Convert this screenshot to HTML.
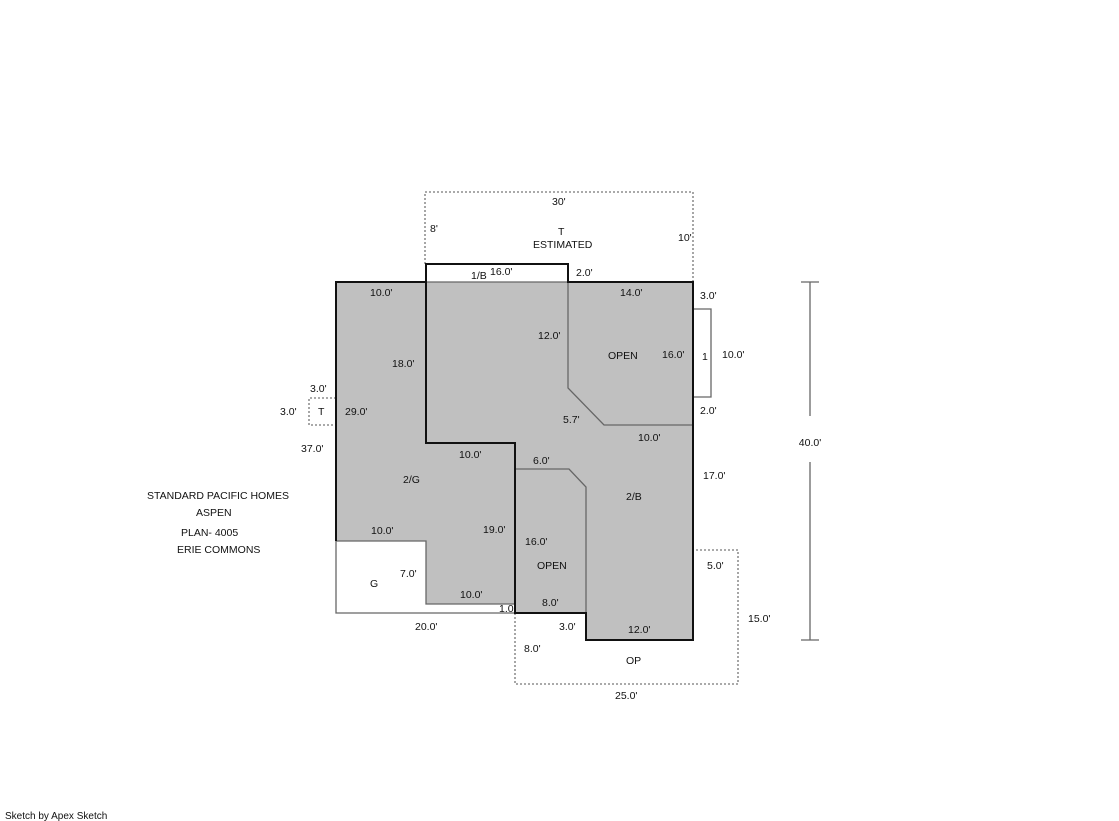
<!DOCTYPE html>
<html><head><meta charset="utf-8"><style>
html,body{margin:0;padding:0;background:#fff;}
svg{display:block;}
text{font-family:"Liberation Sans",sans-serif;font-size:10.5px;fill:#111;}
</style></head><body>
<svg width="1119" height="821" viewBox="0 0 1119 821">
<!-- shaded area -->
<polygon points="336,282 693,282 693,640 586,640 586,613 515,613 515,604 426,604 426,541 336,541" fill="#c0c0c0"/>
<!-- dashed T estimated -->
<polyline points="425,264 425,192 693,192 693,282" fill="none" stroke="#777" stroke-width="1.3" stroke-dasharray="2,2"/>
<!-- small T dashed -->
<polyline points="336,398 309,398 309,425 336,425" fill="none" stroke="#777" stroke-width="1.3" stroke-dasharray="2,2"/>
<!-- OP dashed -->
<polyline points="515,613 515,684 738,684 738,550 693,550" fill="none" stroke="#777" stroke-width="1.3" stroke-dasharray="2,2"/>
<!-- gray lines -->
<g fill="none" stroke="#666" stroke-width="1.3">
<line x1="426" y1="282" x2="568" y2="282"/>
<polyline points="568,282 568,388 604,425 693,425"/>
<polyline points="515,469 569,469 586,487 586,613"/>
<polyline points="336,541 426,541 426,604 515,604"/>
<polyline points="336,541 336,613 515,613"/>
<polyline points="693,309 711,309 711,397 693,397"/>
<polyline points="810,282 810,416"/><polyline points="810,462 810,640"/>
<line x1="801" y1="282" x2="819" y2="282"/><line x1="801" y1="640" x2="819" y2="640"/>
</g>
<!-- dark outline -->
<g fill="none" stroke="#111" stroke-width="2">
<polyline points="336,541 336,282 426,282"/>
<polygon points="426,264 568,264 568,282 693,282 693,640 586,640 586,613 515,613 515,443 426,443"/>
</g>
<!-- labels -->
<text x="552" y="205">30'</text>
<text x="430" y="232">8'</text>
<text x="558" y="235">T</text>
<text x="533" y="248">ESTIMATED</text>
<text x="678" y="241">10'</text>
<text x="471" y="279">1/B</text>
<text x="490" y="275">16.0'</text>
<text x="576" y="276">2.0'</text>
<text x="370" y="296">10.0'</text>
<text x="620" y="296">14.0'</text>
<text x="700" y="299">3.0'</text>
<text x="538" y="339">12.0'</text>
<text x="608" y="359">OPEN</text>
<text x="662" y="358">16.0'</text>
<text x="702" y="360">1</text>
<text x="722" y="358">10.0'</text>
<text x="392" y="367">18.0'</text>
<text x="310" y="392">3.0'</text>
<text x="280" y="415">3.0'</text>
<text x="318" y="415">T</text>
<text x="345" y="415">29.0'</text>
<text x="563" y="423">5.7'</text>
<text x="700" y="414">2.0'</text>
<text x="638" y="441">10.0'</text>
<text x="301" y="452">37.0'</text>
<text x="810" y="446" text-anchor="middle">40.0'</text>
<text x="459" y="458">10.0'</text>
<text x="533" y="464">6.0'</text>
<text x="403" y="483">2/G</text>
<text x="703" y="479">17.0'</text>
<text x="626" y="500">2/B</text>
<text x="147" y="499">STANDARD PACIFIC HOMES</text>
<text x="196" y="516">ASPEN</text>
<text x="181" y="536">PLAN- 4005</text>
<text x="177" y="553">ERIE COMMONS</text>
<text x="371" y="534">10.0'</text>
<text x="483" y="533">19.0'</text>
<text x="525" y="545">16.0'</text>
<text x="537" y="569">OPEN</text>
<text x="707" y="569">5.0'</text>
<text x="400" y="577">7.0'</text>
<text x="370" y="587">G</text>
<text x="460" y="598">10.0'</text>
<text x="499" y="612">1.0'</text>
<text x="542" y="606">8.0'</text>
<text x="748" y="622">15.0'</text>
<text x="415" y="630">20.0'</text>
<text x="559" y="630">3.0'</text>
<text x="628" y="633">12.0'</text>
<text x="524" y="652">8.0'</text>
<text x="626" y="664">OP</text>
<text x="615" y="699">25.0'</text>
<text x="5" y="819" style="font-size:10px">Sketch by Apex Sketch</text>
</svg>
</body></html>
